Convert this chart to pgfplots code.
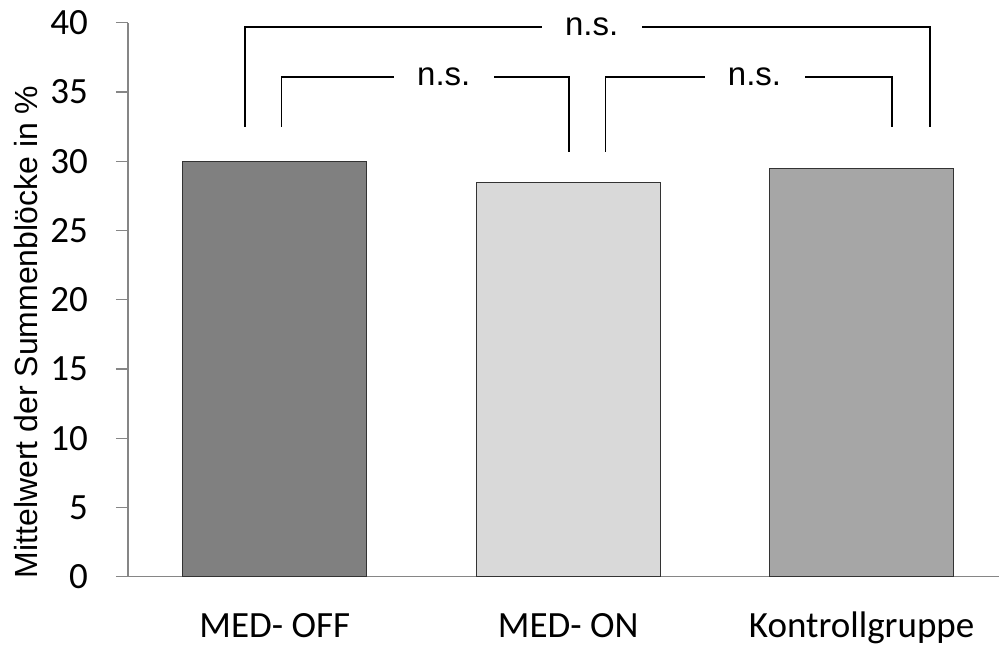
\documentclass[border=0pt]{standalone}
\usepackage{pgfplots}
\pgfplotsset{compat=1.18}
\usepackage{fontspec}
\setmainfont{Carlito}
\newfontfamily\arialf{Liberation Sans}
\definecolor{axisgray}{RGB}{134,134,134}
\definecolor{barA}{RGB}{128,128,128}
\definecolor{barB}{RGB}{217,217,217}
\definecolor{barC}{RGB}{166,166,166}
\begin{document}
\begin{tikzpicture}
\useasboundingbox (0,0) rectangle (999pt,648pt);
\begin{axis}[
  at={(128pt,71.3pt)}, anchor=south west,
  scale only axis, width=871pt, height=554pt,
  xmin=-0.5, xmax=2.468, ymin=0, ymax=40,
  axis x line*=bottom, axis y line*=left,
  axis line style={draw=axisgray, line width=1.2pt},
  ytick={0,5,...,40},
  xtick={0,1,2}, xticklabels={MED- OFF, MED- ON, Kontrollgruppe},
  major tick length=12pt, tick align=outside,
  ytick style={draw=axisgray, line width=1.2pt},
  xtick style={draw=none},
  tick label style={font=\fontsize{37}{37}\selectfont},
  /pgf/number format/assume math mode=true,
  yticklabel style={anchor=east, inner sep=0pt, xshift=-28pt},
  xticklabel style={anchor=base, inner sep=0pt, yshift=-49pt},
  ylabel={Mittelwert der Summenblöcke in \%},
  ylabel style={font=\arialf\fontsize{32}{32}\selectfont, at={(axis description cs:-0.117,0.442)}, anchor=center},
  clip=false,
]
\addplot[ybar, bar width=184pt, fill=barA, draw=black!80, line width=1pt] coordinates {(0,30)};
\addplot[ybar, bar width=184pt, fill=barB, draw=black!80, line width=1pt] coordinates {(1,28.45)};
\addplot[ybar, bar width=184pt, fill=barC, draw=black!80, line width=1pt] coordinates {(2,29.45)};
% brackets
\draw[black, line width=1.6pt] (axis cs:-0.102,32.49) -- (axis cs:-0.102,39.71) -- (axis cs:2.232,39.71) -- (axis cs:2.232,32.49);
\draw[black, line width=1.6pt] (axis cs:0.023,32.49) -- (axis cs:0.023,36.1) -- (axis cs:1.002,36.1) -- (axis cs:1.002,30.69);
\draw[black, line width=1.6pt] (axis cs:1.127,30.69) -- (axis cs:1.127,36.1) -- (axis cs:2.103,36.1) -- (axis cs:2.103,32.49);
\node[fill=white, minimum width=100pt, inner ysep=3pt, font=\arialf\fontsize{33}{33}\selectfont] at (axis cs:1.08,39.71) {n.s.};
\node[fill=white, minimum width=100pt, inner ysep=3pt, font=\arialf\fontsize{33}{33}\selectfont] at (axis cs:0.576,36.1) {n.s.};
\node[fill=white, minimum width=100pt, inner ysep=3pt, font=\arialf\fontsize{33}{33}\selectfont] at (axis cs:1.635,36.1) {n.s.};
\end{axis}
\end{tikzpicture}
\end{document}
